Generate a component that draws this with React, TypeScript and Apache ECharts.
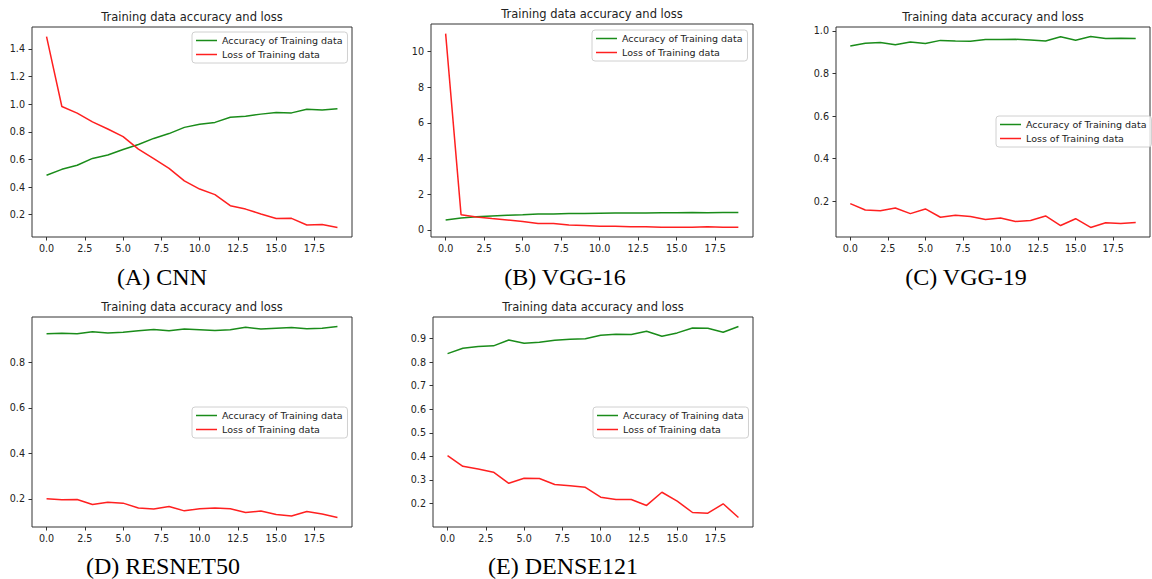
import React, { useEffect, useRef } from "react";
import * as echarts from "echarts";

const epochs = Array.from({ length: 20 }, (_, i) => i);
const xTicks = [0, 2.5, 5, 7.5, 10, 12.5, 15, 17.5];

const cnnAcc = [0.485, 0.528, 0.558, 0.607, 0.632, 0.672, 0.708, 0.752, 0.787, 0.832, 0.855, 0.868, 0.905, 0.913, 0.928, 0.94, 0.937, 0.964, 0.957, 0.967];
const cnnLoss = [1.49, 0.983, 0.935, 0.872, 0.82, 0.765, 0.675, 0.605, 0.535, 0.445, 0.385, 0.345, 0.265, 0.24, 0.205, 0.172, 0.173, 0.125, 0.128, 0.107];
const vgg16Acc = [0.55, 0.66, 0.73, 0.78, 0.81, 0.84, 0.88, 0.89, 0.91, 0.92, 0.93, 0.94, 0.945, 0.95, 0.955, 0.96, 0.965, 0.96, 0.965, 0.97];
const vgg16Loss = [11.0, 0.85, 0.72, 0.63, 0.55, 0.47, 0.36, 0.35, 0.27, 0.24, 0.2, 0.2, 0.17, 0.17, 0.15, 0.14, 0.14, 0.17, 0.15, 0.14];
const vgg19Acc = [0.929, 0.942, 0.945, 0.934, 0.947, 0.94, 0.955, 0.952, 0.951, 0.959, 0.959, 0.96, 0.957, 0.952, 0.972, 0.956, 0.973, 0.964, 0.965, 0.964];
const vgg19Loss = [0.189, 0.159, 0.155, 0.168, 0.142, 0.164, 0.125, 0.134, 0.128, 0.114, 0.121, 0.105, 0.11, 0.131, 0.086, 0.118, 0.077, 0.099, 0.096, 0.1];
const resAcc = [0.926, 0.928, 0.926, 0.935, 0.93, 0.933, 0.939, 0.945, 0.939, 0.947, 0.944, 0.941, 0.944, 0.955, 0.947, 0.951, 0.954, 0.948, 0.951, 0.958];
const resLoss = [0.2, 0.196, 0.197, 0.175, 0.185, 0.181, 0.16, 0.155, 0.166, 0.147, 0.156, 0.16, 0.156, 0.14, 0.146, 0.131, 0.124, 0.144, 0.133, 0.118];
const denseAcc = [0.836, 0.859, 0.866, 0.869, 0.894, 0.88, 0.884, 0.893, 0.897, 0.899, 0.914, 0.918, 0.917, 0.931, 0.91, 0.924, 0.945, 0.944, 0.927, 0.951];
const denseLoss = [0.403, 0.358, 0.347, 0.333, 0.286, 0.307, 0.306, 0.281, 0.276, 0.269, 0.227, 0.217, 0.217, 0.192, 0.248, 0.21, 0.162, 0.159, 0.199, 0.141];

const yTicksA = [0.2, 0.4, 0.6, 0.8, 1.0, 1.2, 1.4];
const yTicksB = [0, 2, 4, 6, 8, 10];
const yTicksC = [0.2, 0.4, 0.6, 0.8, 1.0];
const yTicksD = [0.2, 0.4, 0.6, 0.8];
const yTicksE = [0.1, 0.2, 0.3, 0.4, 0.5, 0.6, 0.7, 0.8, 0.9];

const captions = ["(A) CNN", "(B) VGG-16", "(C) VGG-19", "(D) RESNET50", "(E) DENSE121"];
const chartTitle = "Training data accuracy and loss";
const accName = "Accuracy of Training data";
const lossName = "Loss of Training data";

const panels = [
  { acc: cnnAcc, loss: cnnLoss, yTicks: yTicksA, dec: 1, grid: { left: 32, top: 27, width: 320, height: 210 }, legend: { left: 192, top: 32 }, caption: { x: 162, y: 277 } },
  { acc: vgg16Acc, loss: vgg16Loss, yTicks: yTicksB, dec: 0, grid: { left: 431, top: 24, width: 322, height: 213 }, legend: { left: 592, top: 30 }, caption: { x: 565, y: 277 } },
  { acc: vgg19Acc, loss: vgg19Loss, yTicks: yTicksC, dec: 1, grid: { left: 836, top: 27, width: 314, height: 210 }, legend: { left: 996, top: 116 }, caption: { x: 966, y: 277 } },
  { acc: resAcc, loss: resLoss, yTicks: yTicksD, dec: 1, grid: { left: 32, top: 317, width: 320, height: 210 }, legend: { left: 192, top: 407 }, caption: { x: 163, y: 566 } },
  { acc: denseAcc, loss: denseLoss, yTicks: yTicksE, dec: 1, grid: { left: 433, top: 317, width: 320, height: 210 }, legend: { left: 593, top: 407 }, caption: { x: 563, y: 566 } },
];

const FONT = "DejaVu Sans";
const TXT = "#222";
const SPINE = "#333";

export default function App() {
  const ref = useRef<HTMLDivElement>(null);
  useEffect(() => {
    document.body.style.margin = "0";
    if (!ref.current) return;
    const chart = echarts.init(ref.current, undefined, { renderer: "svg" });
    const grid: any[] = [];
    const xAxis: any[] = [];
    const yAxis: any[] = [];
    const series: any[] = [];
    const legend: any[] = [];
    const title: any[] = [];
    const graphic: any[] = [];
    panels.forEach((p, k) => {
      grid.push({ ...p.grid, show: true, borderColor: SPINE, borderWidth: 1, backgroundColor: "transparent", containLabel: false });
      xAxis.push({
        type: "value", gridIndex: k, min: -0.95, max: 19.95, position: "bottom",
        axisLine: { show: false, onZero: false },
        splitLine: { show: false },
        axisTick: { show: true, length: 3.5, lineStyle: { color: SPINE }, customValues: xTicks },
        axisLabel: { customValues: xTicks, color: TXT, fontFamily: FONT, fontSize: 9.6, margin: 6, formatter: (v: number) => v.toFixed(1) },
      });
      const all = p.acc.concat(p.loss);
      const lo = Math.min(...all), hi = Math.max(...all);
      const m = (hi - lo) * 0.05;
      yAxis.push({
        type: "value", gridIndex: k, min: lo - m, max: hi + m, position: "left",
        axisLine: { show: false, onZero: false },
        splitLine: { show: false },
        axisTick: { show: true, length: 3.5, lineStyle: { color: SPINE }, customValues: p.yTicks },
        axisLabel: { customValues: p.yTicks, color: TXT, fontFamily: FONT, fontSize: 9.6, margin: 7, formatter: (v: number) => v.toFixed(p.dec) },
      });
      series.push({
        type: "line", name: accName, xAxisIndex: k, yAxisIndex: k,
        data: epochs.map((e, i) => [e, p.acc[i]]), showSymbol: false, symbol: "none",
        lineStyle: { color: "#1a8c1a", width: 1.5 }, itemStyle: { color: "#1a8c1a" },
      });
      series.push({
        type: "line", name: lossName, xAxisIndex: k, yAxisIndex: k,
        data: epochs.map((e, i) => [e, p.loss[i]]), showSymbol: false, symbol: "none",
        lineStyle: { color: "#ff2020", width: 1.5 }, itemStyle: { color: "#ff2020" },
      });
      legend.push({
        left: p.legend.left, top: p.legend.top, orient: "vertical",
        data: [accName, lossName], icon: "rect", itemWidth: 21, itemHeight: 1.5, itemGap: 3,
        padding: [3, 5, 3, 4], borderColor: "#d0d0d0", borderWidth: 1, borderRadius: 3,
        backgroundColor: "rgba(255,255,255,0.8)", selectedMode: false,
        textStyle: { color: TXT, fontFamily: FONT, fontSize: 9.5, lineHeight: 11 },
      });
      const g = p.grid;
      title.push({
        text: chartTitle, left: g.left + g.width / 2, top: g.top - 16, textAlign: "center",
        textStyle: { color: TXT, fontFamily: FONT, fontSize: 11.5, fontWeight: "normal" }, padding: 0,
      });
      graphic.push({
        type: "text", x: p.caption.x, y: p.caption.y,
        style: { text: captions[k], font: "24px 'Liberation Serif'", fill: "#000", textAlign: "center", textVerticalAlign: "middle" },
      });
    });
    chart.setOption({ animation: false, grid, xAxis, yAxis, series, legend, title, graphic });
    return () => chart.dispose();
  }, []);
  return <div ref={ref} style={{ width: 1152, height: 579 }} />;
}
